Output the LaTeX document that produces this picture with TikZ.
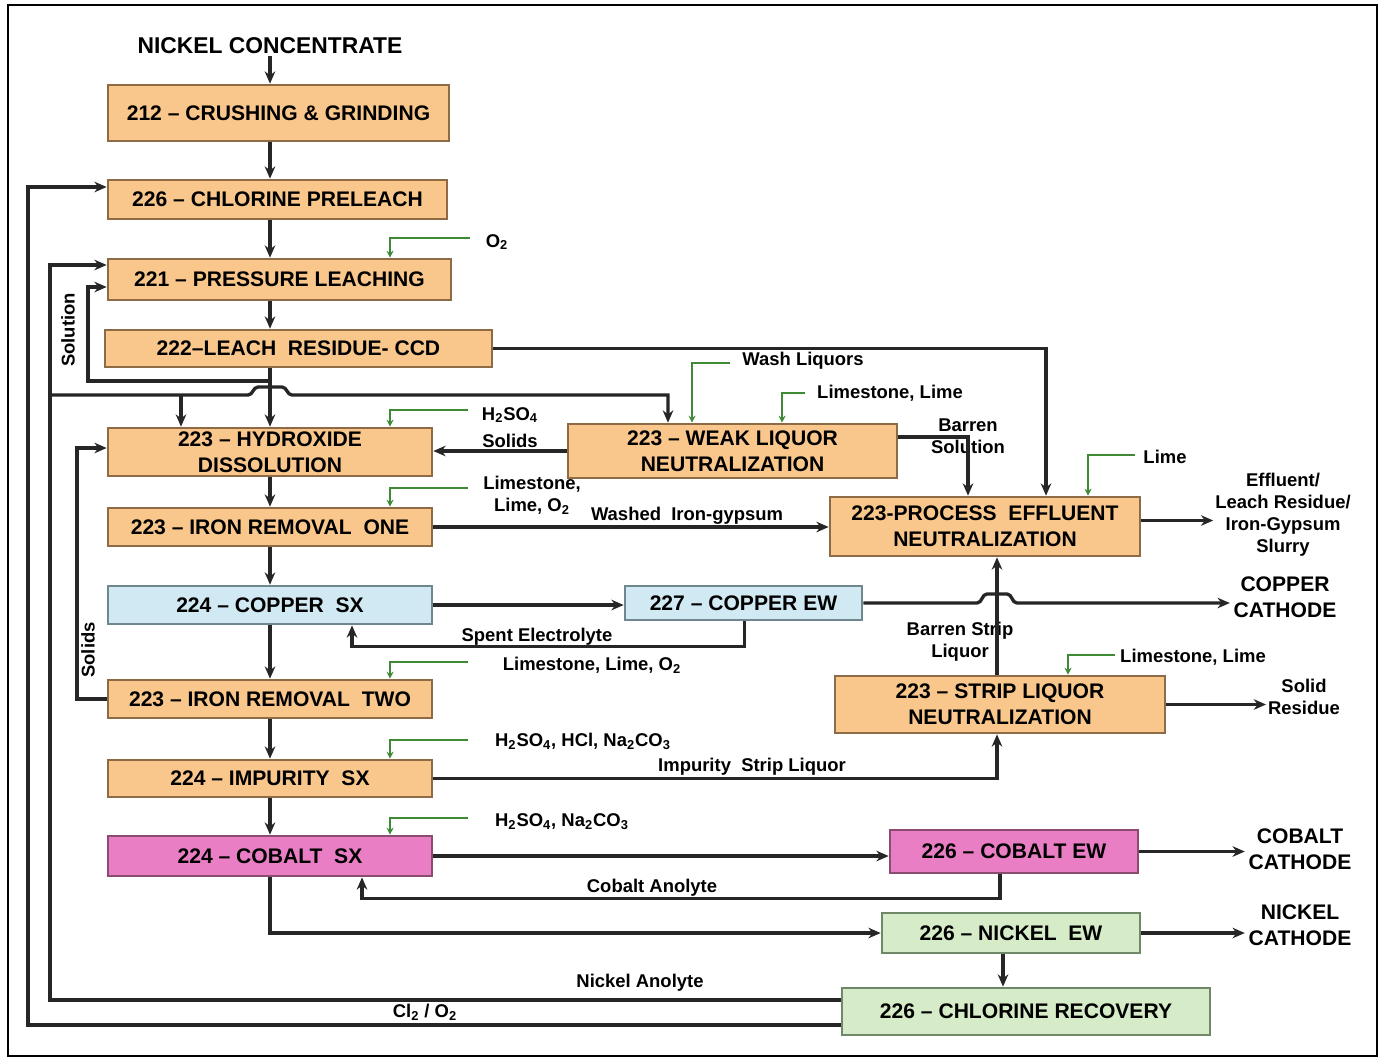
\documentclass[tikz,border=0pt]{standalone}
\usepackage{fontspec}
\setmainfont{Liberation Sans}
\usepackage{tikz}
\usetikzlibrary{positioning}
\usetikzlibrary{calc,arrows.meta}

\definecolor{orangefill}{HTML}{F9C78B}
\definecolor{orangeedge}{HTML}{8E6B45}
\definecolor{bluefill}{HTML}{D0E9F2}
\definecolor{blueedge}{HTML}{70878F}
\definecolor{pinkfill}{HTML}{EA7EC5}
\definecolor{pinkedge}{HTML}{8A4C70}
\definecolor{greenfill}{HTML}{D6EBC7}
\definecolor{greenedge}{HTML}{6F8868}
\definecolor{feedgreen}{HTML}{3F8A35}

\tikzset{
  wh/.style 2 args={minimum width=#1*0.02cm, minimum height=#2*0.02cm},
  stage/.style={draw, line width=1.5pt, inner sep=0pt, align=center,
    font=\bfseries\fontsize{12}{15}\selectfont},
  orangebox/.style={stage, fill=orangefill, draw=orangeedge},
  bluebox/.style={stage, fill=bluefill, draw=blueedge},
  pinkbox/.style={stage, fill=pinkfill, draw=pinkedge},
  greenbox/.style={stage, fill=greenfill, draw=greenedge},
  flow/.style={draw=black!85, line width=1.9pt, -{Stealth[length=7pt,width=6pt]}},
  feed/.style={draw=feedgreen, line width=1.5pt, -{Stealth[length=4pt,width=4pt]}},
  tag/.style={font=\bfseries\fontsize{10.5}{12.5}\selectfont, align=center, inner sep=1pt},
  product/.style={font=\bfseries\fontsize{12}{14.5}\selectfont, align=center, inner sep=2pt},
  headtag/.style={font=\bfseries\fontsize{13}{15}\selectfont, inner sep=1pt}
}

\begin{document}
\begin{tikzpicture}[x=0.02cm, y=-0.02cm]
        \useasboundingbox (0,0) rectangle (1381,1059);
        \fill[white] (0,0) rectangle (1381,1059);
        \draw[line width=1.5pt] (8,5) rectangle (1377,1056);

        \node[headtag] (conc) at (270,46) {NICKEL CONCENTRATE};

        \node[orangebox, wh={341}{56}] (crush) at (278.5,113) {212 -- CRUSHING \& GRINDING};
        \node[orangebox, wh={339}{39}] (prel) at (277.5,199.5) {226 -- CHLORINE PRELEACH};
        \node[orangebox, wh={343}{41}] (press) at (279.5,279.5) {221 -- PRESSURE LEACHING};
        \node[orangebox, wh={387}{37}] (ccd) at (298.5,348.5) {222--LEACH\ \ RESIDUE- CCD};
        \node[orangebox, wh={324}{48}] (hyd) at (270,452) {223 -- HYDROXIDE\\DISSOLUTION};
        \node[orangebox, wh={329}{54}] (weak) at (732.5,451) {223 -- WEAK LIQUOR\\NEUTRALIZATION};
        \node[orangebox, wh={324}{38}] (fe1) at (270,527) {223 -- IRON REMOVAL\ \ ONE};
        \node[bluebox, wh={324}{38}] (cusx) at (270,605) {224 -- COPPER\ \ SX};
        \node[bluebox, wh={237}{34}] (cuew) at (743.5,603) {227 -- COPPER EW};
        \node[orangebox, wh={310}{59}] (pen) at (985,526.5) {223-PROCESS\ \ EFFLUENT\\NEUTRALIZATION};
        \node[orangebox, wh={324}{38}] (fe2) at (270,699) {223 -- IRON REMOVAL\ \ TWO};
        \node[orangebox, wh={330}{57}] (slq) at (1000,704.5) {223 -- STRIP LIQUOR\\NEUTRALIZATION};
        \node[orangebox, wh={324}{37}] (imp) at (270,778.5) {224 -- IMPURITY\ \ SX};
        \node[pinkbox, wh={324}{40}] (cosx) at (270,856) {224 -- COBALT\ \ SX};
        \node[pinkbox, wh={248}{43}] (coew) at (1014,851.5) {226 -- COBALT EW};
        \node[greenbox, wh={258}{40}] (niew) at (1011,933) {226 -- NICKEL\ \ EW};
        \node[greenbox, wh={368}{47}] (clr) at (1026,1011.5) {226 -- CHLORINE RECOVERY};

        \node[tag] (effl) at (1283,515) {Effluent/\\Leach Residue/\\Iron-Gypsum\\Slurry};
        \node[product] (cucath) at (1285,597) {COPPER\\CATHODE};
        \node[tag] (solres) at (1304,697) {Solid\\Residue};
        \node[product] (cocath) at (1300,849) {COBALT\\CATHODE};
        \node[product] (nicath) at (1300,925) {NICKEL\\CATHODE};

        \node[tag, rotate=90] (soln) at (68,330) {Solution};
        \node[tag, rotate=90] (solidsup) at (88,650) {Solids};
        \node[tag] (solidsin) at (510,441) {Solids};
        \node[tag] (barsol) at (968,436) {Barren\\Solution};
        \node[tag] (washfe) at (687,516) {Washed\ \ Iron-gypsum};
        \node[tag] (spent) at (537,637) {Spent Electrolyte};
        \node[tag] (barstrip) at (960,642) {Barren Strip\\Liquor};
        \node[tag] (impstrip) at (752,767) {Impurity\ \ Strip Liquor};
        \node[tag] (coan) at (652,888) {Cobalt Anolyte};
        \node[tag] (nian) at (640,983) {Nickel Anolyte};
        \node[tag] (clox) at (425,1012) {Cl\textsubscript{2} / O\textsubscript{2}};

        \node[tag] (o2add) at (497,242) {O\textsubscript{2}};
        \node[tag] (hydadd) at (510,415) {H\textsubscript{2}SO\textsubscript{4}};
        \node[tag] (fe1add) at (532,495) {Limestone,\\Lime, O\textsubscript{2}};
        \node[tag] (fe2add) at (592,665) {Limestone, Lime, O\textsubscript{2}};
        \node[tag] (impadd) at (583,741) {H\textsubscript{2}SO\textsubscript{4}, HCl, Na\textsubscript{2}CO\textsubscript{3}};
        \node[tag] (coadd) at (562,822) {H\textsubscript{2}SO\textsubscript{4}, Na\textsubscript{2}CO\textsubscript{3}};
        \node[tag] (washadd) at (803,361) {Wash Liquors};
        \node[tag] (weakadd) at (890,393) {Limestone, Lime};
        \node[tag] (penadd) at (1165,457) {Lime};
        \node[tag] (slqadd) at (1193,657) {Limestone, Lime};

        \coordinate (o2in) at (470,238);
        \coordinate (hydin) at (468,410);
        \coordinate (fe1in) at (468,488);
        \coordinate (fe2in) at (468,662);
        \coordinate (impin) at (468,740);
        \coordinate (coin) at (468,818);
        \coordinate (washin) at (730,363);
        \coordinate (weakin) at (805,393);
        \coordinate (penin) at (1135,455);
        \coordinate (slqin) at (1115,655);
        \coordinate (penout) at ($(pen.east)+(0,-6)$);

        \draw[flow] (conc.south) -- (crush.north -| conc.south);
        \draw[flow] (crush.south -| hyd) -- (prel.north -| hyd);
        \draw[flow] (prel.south -| hyd) -- (press.north -| hyd);
        \draw[flow] (press.south -| hyd) -- (ccd.north -| hyd);
        \draw[flow] (ccd.south -| hyd) -- (hyd.north);
        \draw[flow] (hyd.south) -- (fe1.north);
        \draw[flow] (fe1.south) -- (cusx.north);
        \draw[flow] (cusx.south) -- (fe2.north);
        \draw[flow] (fe2.south) -- (imp.north);
        \draw[flow] (imp.south) -- (cosx.north);

        \draw[flow] ($(clr.west)+(0,13.5)$) -| (28,187) -- ($(prel.west)+(0,-12.5)$);
        \draw[flow] ($(clr.west)+(0,-11.5)$) -| (50,265) -- ($(press.west)+(0,-14.5)$);
        \draw[flow] (hyd |- 0,381) -- (88,381) |- ($(press.west)+(0,7.5)$);
        \draw[flow] (50,395) -- (248,395) to[out=0,in=180] (258,387) -- (282,387)
          to[out=0,in=180] (292,395) -| (668,0 |- weak.north);
        \draw[flow] (181,395) -- (181,0 |- hyd.north);
        \draw[flow] (fe2.west) -- (77,0 |- fe2.west) |- ($(hyd.west)+(0,-4)$);

        \draw[flow] (ccd.east) -| ($(pen.north)+(61,0)$);
        \draw[flow] (weak.west) -- (weak.west -| hyd.east);
        \draw[flow] ($(weak.east)+(0,-14)$) -| ($(pen.north)+(-17,0)$);
        \draw[flow] (fe1.east) -- (fe1.east -| pen.west);
        \draw[flow] (penout) -- (penout -| effl.west);
        \draw[flow] (cusx.east) -- (cusx.east -| cuew.west);
        \draw[flow] (cuew.east) -- (977,0 |- cuew.east) to[out=0,in=180] (987,594) -- (1007,594)
          to[out=0,in=180] (1017,0 |- cuew.east) -- (cuew.east -| cucath.west);
        \draw[flow] ($(cuew.south)+(1,0)$) -- ++(0,25) -| ($(cusx.south)+(82,0)$);
        \draw[flow] (imp.east) -| ($(slq.south)+(-3,0)$);
        \draw[flow] ($(slq.north)+(-3,0)$) -- ($(pen.south)+(12,0)$);
        \draw[flow] (slq.east) -- (slq.east -| solres.west);

        \draw[flow] (cosx.east) -- (cosx.east -| coew.west);
        \draw[flow] ($(coew.south)+(-14,0)$) -- ++(0,24) -| ($(cosx.south)+(92,0)$);
        \draw[flow] (cosx.south) |- (niew.west);
        \draw[flow] (coew.east) -- (coew.east -| cocath.west);
        \draw[flow] (niew.east) -- (niew.east -| nicath.west);
        \draw[flow] ($(niew.south)+(-8,0)$) -- ($(clr.north)+(-23,0)$);

        \draw[feed] (o2in) -| (390,0 |- press.north);
        \draw[feed] (hydin) -| (390,0 |- hyd.north);
        \draw[feed] (fe1in) -| (390,0 |- fe1.north);
        \draw[feed] (fe2in) -| (390,0 |- fe2.north);
        \draw[feed] (impin) -| (390,0 |- imp.north);
        \draw[feed] (coin) -| (390,0 |- cosx.north);
        \draw[feed] (washin) -| (692,0 |- weak.north);
        \draw[feed] (weakin) -| (782,0 |- weak.north);
        \draw[feed] (penin) -| (1088,0 |- pen.north);
        \draw[feed] (slqin) -| (1068,0 |- slq.north);
      \end{tikzpicture}
\end{document}
